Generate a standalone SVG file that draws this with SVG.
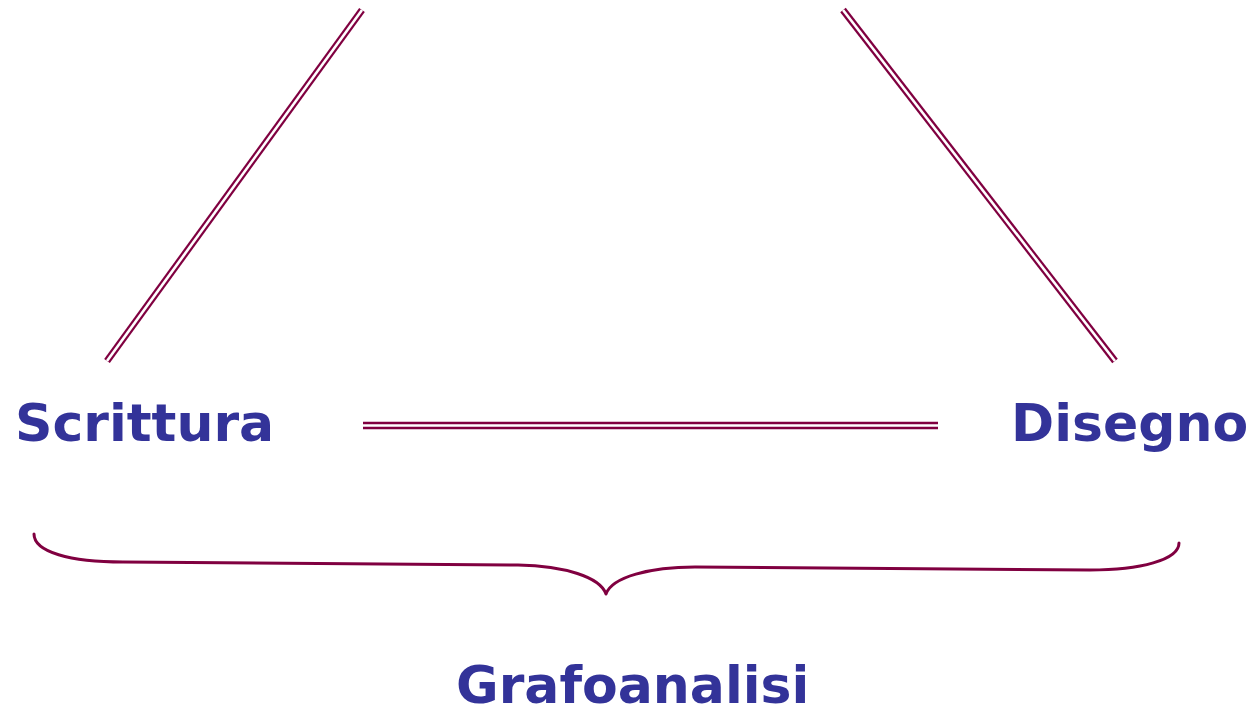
<svg xmlns="http://www.w3.org/2000/svg" width="1255" height="712" viewBox="0 0 1255 712">
<style>
.lbl{font-family:"DejaVu Sans",Verdana,sans-serif;font-weight:bold;font-size:52px;fill:#333399}
.dbl-out{stroke:#800040;fill:none}
.dbl-in{stroke:#ffffff;fill:none}
.brace{stroke:#800040;stroke-width:3;fill:none;stroke-linecap:round;stroke-linejoin:round}
</style>
<rect width="1255" height="712" fill="#ffffff"/>
<g id="connectors">
  <line class="dbl-out" x1="107" y1="361" x2="362" y2="10" stroke-width="7"/>
  <line class="dbl-in" x1="107" y1="361" x2="362" y2="10" stroke-width="2.6"/>
  <line class="dbl-out" x1="843" y1="10" x2="1115" y2="361" stroke-width="7"/>
  <line class="dbl-in" x1="843" y1="10" x2="1115" y2="361" stroke-width="2.6"/>
  <line class="dbl-out" x1="363" y1="425.5" x2="938" y2="425.5" stroke-width="7.5"/>
  <line class="dbl-in" x1="363" y1="425.5" x2="938" y2="425.5" stroke-width="2.5"/>
</g>
<g id="node-scrittura">
  <text class="lbl" x="15" y="441">Scrittura</text>
</g>
<g id="node-disegno">
  <text class="lbl" x="1011" y="441">Disegno</text>
</g>
<g id="brace">
  <path class="brace" d="M34,534 C34,552 70,562 123,562 L518,565 C565,566 600,577 606,594 C612,577 650,567 695,567 L1090,570 C1140,570 1179,560 1179,543"/>
</g>
<g id="node-grafoanalisi">
  <text class="lbl" x="456" y="703">Grafoanalisi</text>
</g>
</svg>
